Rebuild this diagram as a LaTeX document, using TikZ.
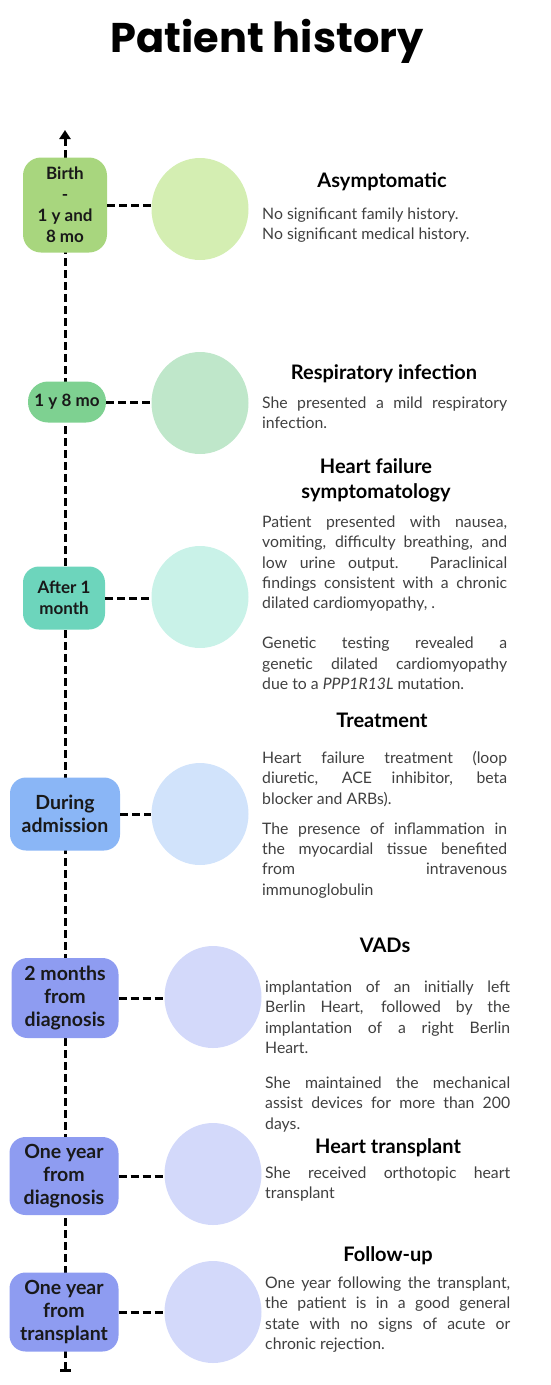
\documentclass[tikz,border=0pt]{standalone}
\usepackage{fontspec}
\setmainfont{Lato}
\newfontfamily\titlefont{Poppins}
\usetikzlibrary{positioning,calc,arrows.meta,shapes.geometric}

\definecolor{stageA}{HTML}{A8D67E}
\definecolor{dotA}{HTML}{D4EEB2}
\definecolor{stageB}{HTML}{7ED191}
\definecolor{dotB}{HTML}{BFE7CA}
\definecolor{stageC}{HTML}{6DD5BC}
\definecolor{dotC}{HTML}{C9F2E8}
\definecolor{stageD}{HTML}{8AB6F6}
\definecolor{dotD}{HTML}{D1E3FB}
\definecolor{stageE}{HTML}{8E9CF1}
\definecolor{dotE}{HTML}{D3D9FA}

\begin{document}
\begin{tikzpicture}[
    x=1pt, y=-1pt,
    stage/.style={rounded corners=16pt, align=center, inner sep=0pt, text=black!90, font=\bfseries\fontsize{17}{21}\selectfont},
    bigstage/.style={stage, font=\bfseries\fontsize{19.5}{23}\selectfont},
    dot/.style={ellipse, minimum width=97pt, minimum height=102pt, inner sep=0pt},
    link/.style={line width=3pt, dash pattern=on 8pt off 4pt},
    heading/.style={anchor=base, align=center, font=\bfseries\fontsize{20}{25}\selectfont},
    story/.style={anchor=north west, text width=245pt, align=justify, inner sep=0pt, text=black!75, font=\fontsize{15.8}{20.3}\selectfont}
]
\useasboundingbox (0,0) rectangle (550,1385);

% Title
\node[anchor=base, font=\titlefont\bfseries\fontsize{41.5}{48}\selectfont] (title) at (267,52) {Patient history};

% Time axis
\coordinate (start) at (65,1372);
\coordinate (end) at (65,130);
\draw[link, {Bar[width=11pt,line width=3pt]}-{Triangle[width=11pt,length=9pt]}] (start) -- (end);

% Stages on the axis
\node[stage, fill=stageA, minimum width=84pt, minimum height=95pt, rounded corners=18pt] (s1) at (65,205) {Birth\\-\\1 y and\\8 mo};
\node[stage, fill=stageB, minimum width=78pt, minimum height=41pt, rounded corners=20pt] (s2) at (67,402) {1 y 8 mo};
\node[stage, fill=stageC, minimum width=82pt, minimum height=63pt] (s3) at (64,598) {After 1\\month};
\node[bigstage, fill=stageD, minimum width=110pt, minimum height=73pt] (s4) at (65,814) {During\\admission};
\node[bigstage, fill=stageE, minimum width=107pt, minimum height=80pt] (s5) at (65,998) {2 months\\from\\diagnosis};
\node[bigstage, fill=stageE, minimum width=109pt, minimum height=78pt] (s6) at (64,1176) {One year\\from\\diagnosis};
\node[bigstage, fill=stageE, minimum width=109pt, minimum height=79pt] (s7) at (64,1312) {One year\\from\\transplant};

% Circles
\node[dot, fill=dotA] (c1) at (200,209) {};
\node[dot, fill=dotB] (c2) at (200,403) {};
\node[dot, fill=dotC] (c3) at (200,597) {};
\node[dot, fill=dotD] (c4) at (200,814) {};
\node[dot, fill=dotE] (c5) at (213,997) {};
\node[dot, fill=dotE] (c6) at (213,1174) {};
\node[dot, fill=dotE] (c7) at (213,1312) {};

% Dashed links
\draw[link] (s1.east) -- (s1.east -| c1.west);
\draw[link] (s2.east) -- (s2.east -| c2.west);
\draw[link] (s3.east) -- (s3.east -| c3.west);
\draw[link] (s4.east) -- (s4.east -| c4.west);
\draw[link] (s5.east) -- (s5.east -| c5.west);
\draw[link] (s6.east) -- (s6.east -| c6.west);
\draw[link] (s7.east) -- (s7.east -| c7.west);

% Headings
\node[heading] (h1) at (382,187) {Asymptomatic};
\node[heading] (h2) at (384,379) {Respiratory infection};
\node[heading] (h3) at (376,498) {Heart failure\\symptomatology};
\node[heading] (h4) at (382,727) {Treatment};
\node[heading] (h5) at (385,952) {VADs};
\node[heading] (h6) at (388,1153) {Heart transplant};
\node[heading] (h7) at (388,1261) {Follow-up};

% Descriptions
\node[story] (t1) at (262,205) {\strut No significant family history.\\No significant medical history.};
\node[story] (t2) at (262,394) {\strut She presented a mild respiratory\linebreak infection.};
\node[story] (t3) at (262,513) {\strut Patient presented with nausea,\linebreak vomiting, difficulty breathing, and\linebreak low urine output. Paraclinical\linebreak findings consistent with a chronic\linebreak dilated cardiomyopathy, .\\[20pt]Genetic testing revealed a\linebreak genetic dilated cardiomyopathy\linebreak due to a \textit{PPP1R13L} mutation.};
\node[story] (t4) at (262,749) {\strut Heart failure treatment (loop\linebreak diuretic, ACE inhibitor, beta\linebreak blocker and ARBs).\\[10pt]The presence of inflammation in\linebreak the myocardial tissue benefited\linebreak from intravenous\linebreak immunoglobulin};
\node[story] (t5) at (265,978) {\strut implantation of an initially left\linebreak Berlin Heart, followed by the\linebreak implantation of a right Berlin\linebreak Heart.\\[15pt]She maintained the mechanical\linebreak assist devices for more than 200\linebreak days.};
\node[story] (t6) at (265,1164) {\strut She received orthotopic heart\linebreak transplant};
\node[story] (t7) at (265,1274) {\strut One year following the transplant,\linebreak the patient is in a good general\linebreak state with no signs of acute or\linebreak chronic rejection.};

\end{tikzpicture}
\end{document}
